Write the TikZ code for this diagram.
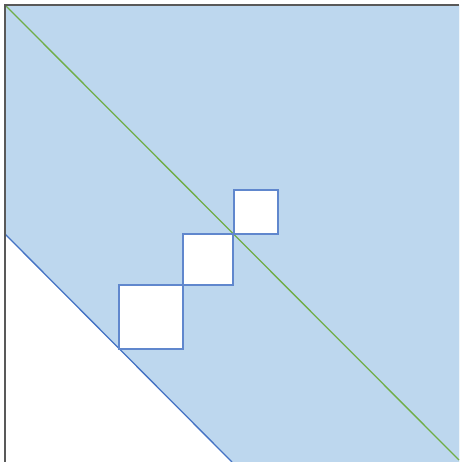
\documentclass[tikz,border=0pt]{standalone}
\definecolor{regionblue}{HTML}{BDD7EE}
\definecolor{edgeblue}{HTML}{4472C4}
\definecolor{diaggreen}{HTML}{70AD47}
\definecolor{framegrey}{HTML}{595959}
\begin{document}
\begin{tikzpicture}[x=1pt,y=-1pt]
\useasboundingbox (0,0) rectangle (459,462);

\draw[fill, color=regionblue] (5,5) -- (459,5) -- (459,462) -- (232,462) -- (5,234) -- cycle;
\draw[color=edgeblue, line width=1.3] (5,234) -- (232,462);
\draw[color=diaggreen, line width=1.3] (5,5) -- (459,460);

\draw[fill, color=white] (119,285) rectangle (183,349);
\draw[fill, color=white] (183,234) rectangle (233,285);
\draw[fill, color=white] (234,190) rectangle (278,234);
\draw[color=edgeblue!85, line width=1.3] (119,285) rectangle (183,349);
\draw[color=edgeblue!85, line width=1.3] (183,234) rectangle (233,285);
\draw[color=edgeblue!85, line width=1.3] (234,190) rectangle (278,234);

\draw[color=framegrey, line width=1.8] (5,462) -- (5,5) -- (459,5);
\end{tikzpicture}
\end{document}
